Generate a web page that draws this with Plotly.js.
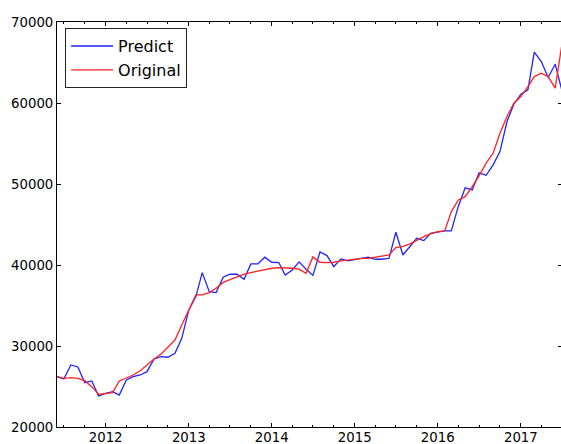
<!DOCTYPE html>
<html>
<head>
<meta charset="utf-8">
<script src="https://cdn.plot.ly/plotly-3.0.1.min.js"></script>
<style>
html,body{margin:0;padding:0;overflow:hidden;background:#fff;}
#chart{width:562px;height:444px;}
</style>
</head>
<body>
<div id="chart"></div>
<script>
// Monthly dates Jun 2011 - Jul 2017
const startYear = 2011, startMonth = 6, nMonths = 74;
const months = [];
for (let i = 0; i < nMonths; i++) {
  const m = startMonth - 1 + i;
  const y = startYear + Math.floor(m / 12);
  const mm = (m % 12) + 1;
  months.push(y + '-' + String(mm).padStart(2, '0') + '-01');
}

const predict = [
  26210, 25930, 27660, 27410, 25470, 25680, 23830,
  24160, 24360, 23950, 25800, 26210, 26420, 26830, 28400, 28680, 28610, 29100, 30950,
  34450, 36100, 39060, 36710, 36590, 38500, 38860, 38860, 38240, 40130, 40130, 40960,
  40340, 40300, 38770, 39390, 40380, 39480, 38720, 41600, 41160, 39800, 40750, 40500,
  40660, 40830, 40960, 40710, 40710, 40830, 44050, 41240, 42270, 43300, 43010, 43920,
  44050, 44210, 44210, 47260, 49520, 49270, 51380, 51080, 52360, 54000, 57710, 59850,
  61090, 61620, 66270, 65110, 63140, 64790, 61500
];

const original = [
  26210, 26010, 26090, 26010, 25720, 24980, 24040,
  24160, 24240, 25680, 26090, 26420, 26950, 27700, 28400, 29020, 29840, 30740, 32600,
  34530, 36300, 36300, 36590, 37130, 37850, 38200, 38560, 38860, 39060, 39270, 39480,
  39600, 39680, 39680, 39600, 39480, 38980, 41000, 40340, 40300, 40340, 40500, 40590,
  40750, 40830, 40830, 40960, 41040, 41240, 42150, 42300, 42600, 43090, 43500, 43840,
  44120, 44210, 46590, 48030, 48440, 49680, 51000, 52570, 53800, 56270, 58330, 59980,
  60790, 62030, 63260, 63670, 63260, 61830, 67300
];

const yTicks = [20000, 30000, 40000, 50000, 60000, 70000];

const traces = [
  {x: months, y: predict, name: 'Predict', type: 'scatter', mode: 'lines',
   line: {color: '#2222ff', width: 1.3}},
  {x: months, y: original, name: 'Original', type: 'scatter', mode: 'lines',
   line: {color: '#ff2222', width: 1.3}}
];

const layout = {
  width: 562, height: 444,
  margin: {l: 57, r: 0, t: 22, b: 17, pad: 0},
  paper_bgcolor: '#fff', plot_bgcolor: '#fff',
  font: {family: 'DejaVu Sans', size: 13.3, color: '#000'},
  showlegend: true,
  legend: {
    x: 0.016, y: 0.985, xanchor: 'left', yanchor: 'top',
    bordercolor: '#222', borderwidth: 1, bgcolor: '#fff',
    font: {family: 'DejaVu Sans', size: 16, color: '#000'},
    itemwidth: 42,
    tracegroupgap: 0
  },
  xaxis: {
    type: 'date',
    range: ['2011-06-01', '2017-07-01'],
    showgrid: false, zeroline: false,
    showline: true, linecolor: '#000', linewidth: 1, mirror: 'ticks',
    ticks: 'inside', ticklen: 4, tickcolor: '#000', tickwidth: 1,
    dtick: 'M12', tick0: '2012-01-01', tickformat: '%Y',
    ticklabelstandoff: -2,
    minor: {dtick: 'M3', tick0: '2012-01-01', ticks: 'inside', ticklen: 2, tickcolor: '#000', showgrid: false},
    tickfont: {family: 'DejaVu Sans', size: 13.3, color: '#000'}
  },
  yaxis: {
    range: [20000, 70000],
    showgrid: false, zeroline: false,
    showline: true, linecolor: '#000', linewidth: 1, mirror: 'ticks',
    ticks: 'inside', ticklen: 4, tickcolor: '#000', tickwidth: 1,
    tickmode: 'array', tickvals: yTicks, ticktext: yTicks.map(String),
    tickfont: {family: 'DejaVu Sans', size: 13.3, color: '#000'}
  }
};

Plotly.newPlot('chart', traces, layout, {displayModeBar: false, staticPlot: true});
</script>
</body>
</html>
